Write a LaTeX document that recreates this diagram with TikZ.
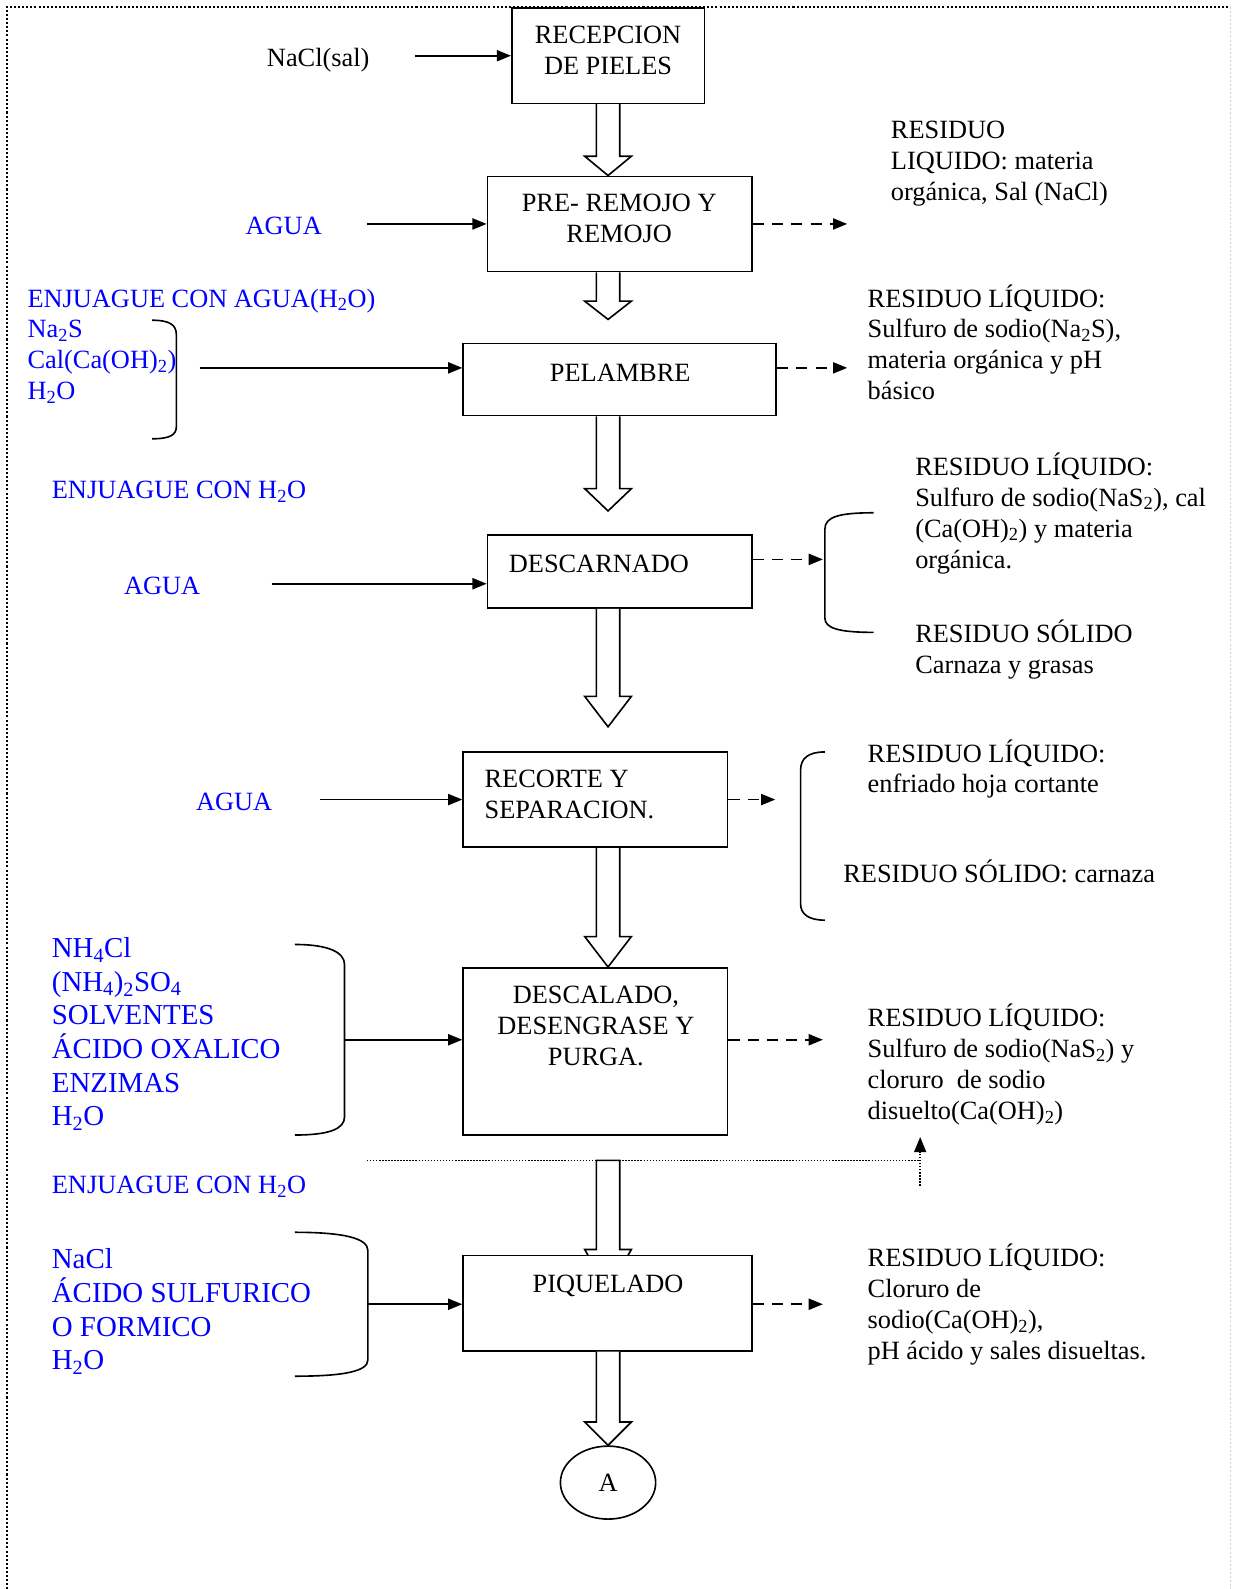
\documentclass[tikz,border=0pt]{standalone}
\usepackage{fontspec}
\setmainfont{Liberation Serif}
\usetikzlibrary{arrows.meta,shapes.geometric,calc}
\definecolor{inblue}{RGB}{0,0,255}
\newcommand{\sub}[1]{\textsubscript{#1}}
% wide outlined flow arrow: start point, tip, head length
\newcommand{\hollowarrow}[3]{%
  \draw[hollow] let \p1=(#1), \p2=(#2) in
    (\x1-11.5pt,\y1) -- (\x1-11.5pt,\y2+#3) -- (\x1-23pt,\y2+#3) -- (\x1,\y2)
    -- (\x1+23pt,\y2+#3) -- (\x1+11.5pt,\y2+#3) -- (\x1+11.5pt,\y1);}
\begin{document}
\begin{tikzpicture}[x=1pt,y=-1pt,
  hollow/.style={line width=1.6pt, fill=white, line join=miter},
  box/.style={draw, line width=1.6pt, fill=white, inner sep=0pt},
  txt/.style={inner sep=0pt, font=\fontsize{26}{30.5}\selectfont},
  ctxt/.style={txt, align=center, anchor=base},
  ltxt/.style={txt, align=left, anchor=base west},
  btxt/.style={ltxt, text=inblue},
  bctxt/.style={ctxt, text=inblue},
  bigtxt/.style={btxt, font=\fontsize{28.5}{33.2}\selectfont},
  inarrow/.style={line width=1.6pt, -{Triangle[length=14pt,width=11pt]}},
  outarrow/.style={inarrow, dash pattern=on 11pt off 8pt},
  brace/.style={line width=1.6pt},
  feed/.style={line width=1.4pt, dash pattern=on 1.5pt off 1.5pt}]

\useasboundingbox (0,0) rectangle (1216,1568);

% page frame
\draw[line width=2pt, dash pattern=on 2pt off 2pt] (7,1568) -- (7,7) -- (1214,7);
\draw[line width=1pt, gray!35, dash pattern=on 2pt off 2pt] (1214.5,7) -- (1214.5,1568);

\coordinate (spine) at (600,0);

% process boxes
\node[box, minimum width=190pt, minimum height=94pt]  (b1) at (600,55) {};
\node[box, minimum width=261pt, minimum height=94pt]  (b2) at (611.5,221) {};
\node[box, minimum width=309pt, minimum height=71pt]  (b3) at (611.5,374.5) {};
\node[box, minimum width=261pt, minimum height=72pt]  (b4) at (611.5,564) {};
\node[box, minimum width=261pt, minimum height=94pt]  (b5) at (587.5,789) {};
\node[box, minimum width=261pt, minimum height=165pt] (b6) at (587.5,1037.5) {};

% flow arrows between the stages
\hollowarrow{b1.south -| spine}{b2.north -| spine}{19pt}
\hollowarrow{b2.south -| spine}{$(b3.north -| spine)+(0,-23)$}{18pt}
\hollowarrow{b3.south -| spine}{$(b4.north -| spine)+(0,-23)$}{22pt}
\hollowarrow{b4.south -| spine}{$(b5.north -| spine)+(0,-24)$}{30pt}
\hollowarrow{b5.south -| spine}{b6.north -| spine}{30pt}

% rinse line and arrow into pickling
\coordinate (fbL) at (362,1145);
\coordinate (fbR) at (908,1145);
\draw[hollow] let \p1=(fbL -| spine) in
  (\x1-11.5pt,\y1) -- (\x1-11.5pt,\y1-88pt) -- (\x1-23pt,\y1-88pt) -- (\x1,\y1-128pt)
  -- (\x1+23pt,\y1-88pt) -- (\x1+11.5pt,\y1-88pt) -- (\x1+11.5pt,\y1) -- cycle;
\draw[feed] (fbL) -- (fbR);
\coordinate (fbB) at (908,1170);
\draw[feed, -{Triangle[length=15pt,width=12pt]}] (fbB) -- (908,1122);

\node[box, minimum width=285pt, minimum height=94pt]  (b7) at (599.5,1286) {};
\node[draw, line width=1.6pt, ellipse, minimum width=94pt, minimum height=72pt, inner sep=0pt,
      font=\fontsize{26}{30.5}\selectfont] (e) at (600,1463) {A};
\hollowarrow{b7.south -| spine}{e.north}{23pt}

% box labels (base anchor sits on the last line)
\node[ctxt] (t1) at (600,73.5)  {RECEPCION\\DE PIELES};
\node[ctxt] (t2) at (611,239.5) {PRE- REMOJO Y\\REMOJO};
\node[ctxt] (t3) at (612,376) {PELAMBRE};
\node[ctxt] (t4) at (591,565) {DESCARNADO};
\node[ltxt] (t5) at (478,807.5) {RECORTE Y\\SEPARACION.};
\node[ctxt] (t6) at (588,1051) {DESCALADO,\\DESENGRASE Y\\PURGA.};
\node[ctxt] (t7) at (600,1275) {PIQUELADO};

% inputs
\node[ctxt] (l1) at (314,66) {NaCl(sal)};
\coordinate (i1) at (410,55);
\draw[inarrow] (i1) -- (i1 -| b1.west);

\node[bctxt] (l2) at (280,231) {AGUA};
\coordinate (i2) at (362,221);
\draw[inarrow] (i2) -- (i2 -| b2.west);

\node[btxt] (l3) at (27,394.5) {ENJUAGUE CON AGUA(H\sub{2}O)\\Na\sub{2}S\\Cal(Ca(OH)\sub{2})\\H\sub{2}O};
\draw[brace] (150,316) .. controls (168,316) and (174,321) .. (174,330) -- (174,421)
  .. controls (174,429) and (168,433) .. (150,433);
\coordinate (i3) at (197,363);
\draw[inarrow] (i3) -- (i3 -| b3.west);

\node[btxt] (l4) at (51,492) {ENJUAGUE CON H\sub{2}O};

\node[bctxt] (l5) at (160,587) {AGUA};
\coordinate (i4) at (268,576);
\draw[inarrow] (i4) -- (i4 -| b4.west);

\node[bctxt] (l6) at (231,800) {AGUA};
\coordinate (i5) at (316,789);
\draw[inarrow] (i5) -- (i5 -| b5.west);

\node[bigtxt] (l7) at (51,1111) {NH\sub{4}Cl\\(NH\sub{4})\sub{2}SO\sub{4}\\SOLVENTES\\ÁCIDO OXALICO\\ENZIMAS\\H\sub{2}O};
\draw[brace] (291,932) .. controls (325,932) and (340,940) .. (340,952) -- (340,1102)
  .. controls (340,1114) and (325,1120) .. (291,1120);
\coordinate (i6) at (340,1026);
\draw[inarrow] (i6) -- (i6 -| b6.west);

\node[btxt] (l8) at (51,1178) {ENJUAGUE CON H\sub{2}O};

\node[bigtxt] (l9) at (51,1351.6) {NaCl\\ÁCIDO SULFURICO\\O FORMICO\\H\sub{2}O};
\draw[brace] (291,1216) .. controls (340,1216) and (363,1222) .. (363,1234) -- (363,1342)
  .. controls (363,1353) and (340,1358) .. (291,1358);
\coordinate (i7) at (363,1287);
\draw[inarrow] (i7) -- (i7 -| b7.west);

% residues
\coordinate (o2) at (836,221);
\draw[outarrow] (o2 -| b2.east) -- (o2);
\node[ltxt] (r1) at (879,198) {RESIDUO\\LIQUIDO: materia\\orgánica, Sal (NaCl)};

\coordinate (o3) at (836,363);
\draw[outarrow] (o3 -| b3.east) -- (o3);
\node[ltxt] (r2) at (856,394.5) {RESIDUO LÍQUIDO:\\Sulfuro de sodio(Na\sub{2}S),\\materia orgánica y pH\\básico};

\coordinate (o4) at (812,552);
\draw[outarrow] (o4 -| b4.east) -- (o4);
\draw[brace] (862,506) .. controls (828,506) and (814,510) .. (814,522) -- (814,610)
  .. controls (814,620) and (828,624) .. (862,624);
\node[ltxt] (r3) at (903,560.5) {RESIDUO LÍQUIDO:\\Sulfuro de sodio(NaS\sub{2}), cal\\(Ca(OH)\sub{2}) y materia\\orgánica.};
\node[ltxt] (r4) at (903,664.5) {RESIDUO SÓLIDO\\Carnaza y grasas};

\coordinate (o5) at (765,789);
\draw[outarrow] (o5 -| b5.east) -- (o5);
\draw[brace] (814,742) .. controls (798,742) and (790,748) .. (790,760) -- (790,892)
  .. controls (790,902) and (798,908) .. (814,908);
\node[ltxt] (r5) at (856,782.5) {RESIDUO LÍQUIDO:\\enfriado hoja cortante};
\node[ltxt] (r6) at (832,871) {RESIDUO SÓLIDO: carnaza};

\coordinate (o6) at (812,1026);
\draw[outarrow] (o6 -| b6.east) -- (o6);
\node[ltxt] (r7) at (856,1104.5) {RESIDUO LÍQUIDO:\\Sulfuro de sodio(NaS\sub{2}) y\\cloruro\ \ de sodio\\disuelto(Ca(OH)\sub{2})};

\coordinate (o7) at (812,1287);
\draw[outarrow] (o7 -| b7.east) -- (o7);
\node[ltxt] (r8) at (856,1341.5) {RESIDUO LÍQUIDO:\\Cloruro de\\sodio(Ca(OH)\sub{2}),\\pH ácido y sales disueltas.};
\end{tikzpicture}
\end{document}
